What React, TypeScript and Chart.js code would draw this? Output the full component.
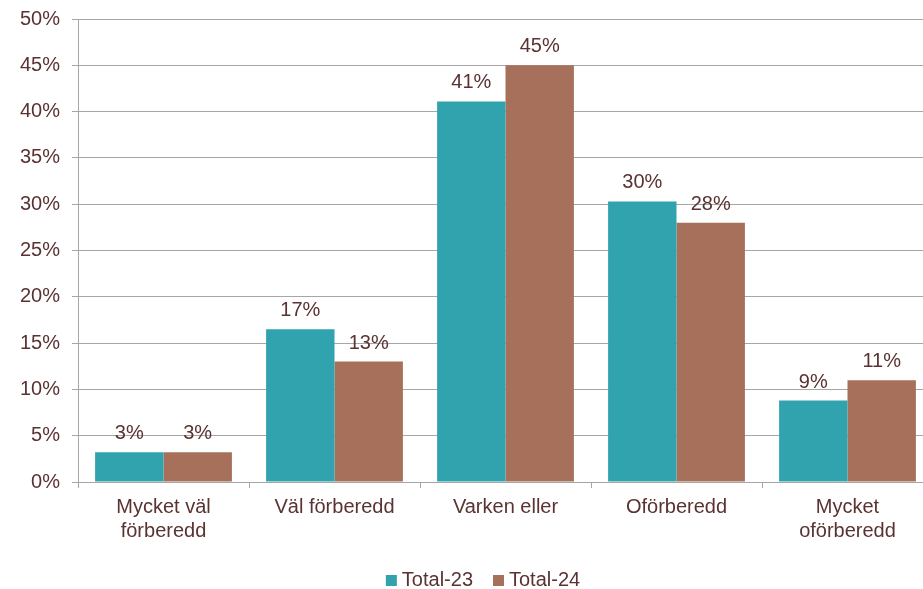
import React, { useEffect, useRef } from "react";
import { Chart, registerables } from "chart.js";
Chart.register(...registerables);

const categories: (string | string[])[] = [
  ["Mycket väl", "förberedd"],
  "Väl förberedd",
  "Varken eller",
  "Oförberedd",
  ["Mycket", "oförberedd"],
];
const total23 = [3.2, 16.5, 41.1, 30.3, 8.8];
const total24 = [3.2, 13.0, 45.0, 28.0, 11.0];
const seriesNames = ["Total-23", "Total-24"];
const seriesColors = ["#31A3AE", "#A6705A"];
const yMin = 0;
const yMax = 50;
const yStep = 5;

const FONT = "'Liberation Sans', Arial, sans-serif";
const TEXT = "#5A3232";
const GRID = "#A6A6A6";

const dataLabels = {
  id: "dataLabels",
  afterDatasetsDraw(chart: any) {
    const ctx = chart.ctx;
    ctx.save();
    ctx.font = `20px ${FONT}`;
    ctx.fillStyle = TEXT;
    ctx.textAlign = "center";
    ctx.textBaseline = "alphabetic";
    chart.data.datasets.forEach((ds: any, i: number) => {
      const meta = chart.getDatasetMeta(i);
      meta.data.forEach((el: any, j: number) => {
        ctx.fillText(Math.round(ds.data[j]) + "%", el.x, el.y - 13);
      });
    });
    ctx.restore();
  },
};

const customLegend = {
  id: "customLegend",
  afterDraw(chart: any) {
    const ctx = chart.ctx;
    ctx.save();
    ctx.font = `20px ${FONT}`;
    ctx.textBaseline = "alphabetic";
    ctx.textAlign = "left";
    const box = 11;
    const gap = 5;
    const itemGap = 20;
    const items = chart.data.datasets.map((ds: any) => ({
      label: ds.label,
      color: ds.backgroundColor,
      w: box + gap + ctx.measureText(ds.label).width,
    }));
    const total = items.reduce((s: number, it: any) => s + it.w, 0) + itemGap * (items.length - 1);
    const cx = 483;
    let x = cx - total / 2;
    const baseY = 586;
    items.forEach((it: any) => {
      ctx.fillStyle = it.color;
      ctx.fillRect(x, baseY - box, box, box);
      ctx.fillStyle = TEXT;
      ctx.fillText(it.label, x + box + gap, baseY);
      x += it.w + itemGap;
    });
    ctx.restore();
  },
};

export default function App() {
  const ref = useRef<HTMLCanvasElement | null>(null);
  useEffect(() => {
    if (!ref.current) return;
    const chart = new Chart(ref.current, {
      type: "bar",
      data: {
        labels: categories as any,
        datasets: [
          { label: seriesNames[0], data: total23, backgroundColor: seriesColors[0], borderWidth: 0 },
          { label: seriesNames[1], data: total24, backgroundColor: seriesColors[1], borderWidth: 0 },
        ],
      },
      options: {
        responsive: false,
        animation: false,
        devicePixelRatio: 1,
        layout: { padding: { top: 19, bottom: 47, left: 0, right: 0 } },
        plugins: {
          legend: { display: false },
          tooltip: { enabled: false },
        },
        datasets: { bar: { categoryPercentage: 0.8, barPercentage: 1.0 } },
        scales: {
          x: {
            grid: {
              display: true,
              drawOnChartArea: false,
              drawTicks: true,
              tickLength: 6,
              color: GRID,
              offset: true,
            },
            border: { color: GRID },
            ticks: {
              font: { family: FONT, size: 20, lineHeight: 1.2 },
              color: TEXT,
              padding: 7,
              maxRotation: 0,
              autoSkip: false,
            },
            afterFit(scale: any) {
              scale.height = 60;
              scale.paddingLeft = 0;
              scale.paddingRight = 0;
            },
          },
          y: {
            min: yMin,
            max: yMax,
            ticks: {
              stepSize: yStep,
              callback: (v: any) => v + "%",
              font: { family: FONT, size: 20 },
              color: TEXT,
              padding: 12,
            },
            grid: { color: GRID, tickLength: 6, drawTicks: true },
            border: { color: GRID },
            afterFit(scale: any) {
              scale.width = 78;
              scale.paddingTop = 0;
              scale.paddingBottom = 0;
            },
          },
        },
      },
      plugins: [dataLabels, customLegend],
    });
    return () => chart.destroy();
  }, []);
  return (
    <div style={{ position: "fixed", left: 0, top: 0, width: 923, height: 589, overflow: "hidden", background: "#fff" }}>
      <canvas ref={ref} width={933} height={589} style={{ width: 933, height: 589, display: "block" }} />
    </div>
  );
}
